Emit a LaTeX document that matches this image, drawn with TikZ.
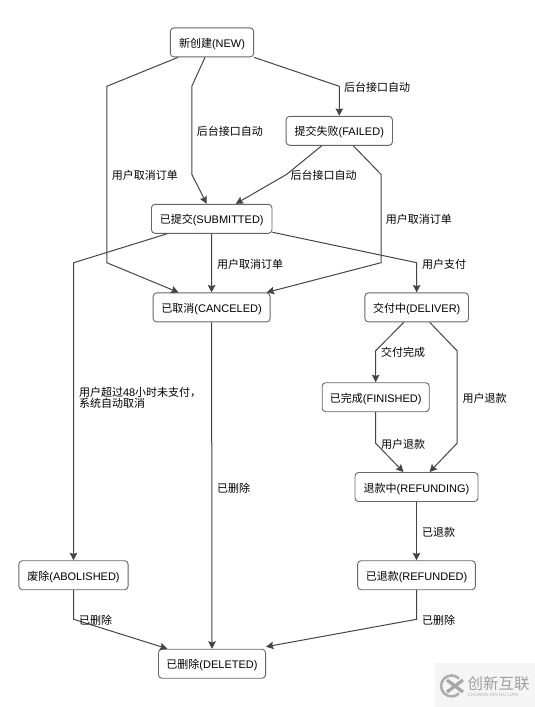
\documentclass[tikz,border=0pt]{standalone}
\usepackage{fontspec}
\setmainfont{Liberation Sans}
\newfontfamily\cjkfam{Noto Sans CJK SC}
\newcommand{\zh}[1]{{\cjkfam #1}}
\usetikzlibrary{arrows.meta}
\definecolor{edgec}{HTML}{444444}
\definecolor{boxc}{HTML}{666666}
\tikzset{
  statebox/.style={draw=boxc,line width=0.9pt,rounded corners=3.5pt,fill=white,inner sep=0pt,minimum height=29pt,text height=11pt,text depth=1pt,font=\fontsize{11}{13}\selectfont,text=black},
  edgeline/.style={draw=edgec,line width=1pt},
  arrowline/.style={edgeline,-{Stealth[length=7.5pt,width=7.5pt,inset=1.2pt]}},
  edgelabel/.style={anchor=west,inner sep=0pt,font=\fontsize{11}{11}\selectfont,text=black,align=left},
}
\begin{document}
\begin{tikzpicture}[x=1pt,y=-1pt]
\useasboundingbox (0,0) rectangle (535,707);
% nodes
\node[statebox,minimum width=83.3pt]  (new) at (212,42.4) {\zh{新创建}(NEW)};
\node[statebox,minimum width=106.3pt] (failed) at (339.3,130.8) {\zh{提交失败}(FAILED)};
\node[statebox,minimum width=120.5pt] (submitted) at (211.7,218.8) {\zh{已提交}(SUBMITTED)};
\node[statebox,minimum width=117pt]   (canceled) at (211.6,307.4) {\zh{已取消}(CANCELED)};
\node[statebox,minimum width=103.6pt] (deliver) at (416.7,307.4) {\zh{交付中}(DELIVER)};
\node[statebox,minimum width=107pt]   (finished) at (375.7,397.2) {\zh{已完成}(FINISHED)};
\node[statebox,minimum width=123pt]   (refunding) at (416.5,487) {\zh{退款中}(REFUNDING)};
\node[statebox,minimum width=117.7pt] (refunded) at (416.5,575.2) {\zh{已退款}(REFUNDED)};
\node[statebox,minimum width=109.2pt] (abolished) at (73.5,575.2) {\zh{废除}(ABOLISHED)};
\node[statebox,minimum width=107.1pt] (deleted) at (212,663.7) {\zh{已删除}(DELETED)};
% connectors
\draw[arrowline] ([xshift=-34pt]new.south) -- (106.8,86.3) -- (106.8,262.7) -- ([xshift=-33pt]canceled.north);
\draw[arrowline] ([xshift=-7pt]new.south) -- (191.8,86.3) -- (191.8,174.3) -- ([xshift=-5pt]submitted.north);
\draw[arrowline] (new.south east) -- (339.3,86.3) -- (failed.north);
\draw[arrowline] ([xshift=-17.5pt]failed.south) -- (286.7,174.3) -- ([xshift=24pt]submitted.north);
\draw[arrowline] ([xshift=14pt]failed.south) -- (381,174.3) -- (381,262.7) -- ([xshift=55pt]canceled.north);
\draw[arrowline] ([xshift=-44.5pt]submitted.south) -- (73.7,262.7) -- (abolished.north);
\draw[arrowline] (submitted.south) -- (canceled.north);
\draw[arrowline] ([yshift=1.5pt]submitted.south east) -- (416.7,262.7) -- (deliver.north);
\draw[arrowline] (canceled.south) -- (deleted.north);
\draw[arrowline] ([xshift=-13pt]deliver.south) -- (375.7,350.7) -- (finished.north);
\draw[arrowline] ([xshift=13pt]deliver.south) -- (457,350.7) -- (457,443.3) -- ([xshift=13pt]refunding.north);
\draw[arrowline] (finished.south) -- (375.7,443.3) -- ([xshift=-13pt]refunding.north);
\draw[arrowline] (refunding.south) -- (refunded.north);
\draw[arrowline] (abolished.south) -- (73.7,619.3) -- ([xshift=-44.5pt]deleted.north);
\draw[arrowline] (refunded.south) -- (416.5,619.3) -- ([yshift=2pt]deleted.north east);
% labels
\node[edgelabel] (l1) at (344,87) {\zh{后台接口自动}};
\node[edgelabel] (l2) at (196.6,131) {\zh{后台接口自动}};
\node[edgelabel] (l3) at (111.6,175.7) {\zh{用户取消订单}};
\node[edgelabel] (l4) at (290.4,175.7) {\zh{后台接口自动}};
\node[edgelabel] (l5) at (385.7,219.7) {\zh{用户取消订单}};
\node[edgelabel] (l6) at (217,264) {\zh{用户取消订单}};
\node[edgelabel] (l7) at (421.8,264) {\zh{用户支付}};
\node[edgelabel] (l8) at (381,352.3) {\zh{交付完成}};
\node[edgelabel] (l9) at (462.5,398) {\zh{用户退款}};
\node[edgelabel] (l10) at (381,444) {\zh{用户退款}};
\node[edgelabel] (l11) at (78.8,392.5) {\zh{用户超过}48\zh{小时未支付，}};
\node[edgelabel] (l12) at (78.8,403.5) {\zh{系统自动取消}};
\node[edgelabel] (l13) at (217,488) {\zh{已删除}};
\node[edgelabel] (l14) at (421.8,532) {\zh{已退款}};
\node[edgelabel] (l15) at (78.8,620) {\zh{已删除}};
\node[edgelabel] (l16) at (421.8,620) {\zh{已删除}};
% watermark
\fill[black!4] (435,662.7) rectangle (535,707);
\draw[black!32,line width=2.5pt] (459,678.5) arc[start angle=-45,end angle=-315,radius=10.5];
\draw[black!35,line width=3.2pt] (447,680) -- (463,692) (463,680) -- (447,692);
\node[anchor=west,inner sep=0pt,text=black!38,font=\fontsize{15.5}{15.5}\selectfont] (wm1) at (467.5,684) {\zh{创新互联}};
\node[anchor=west,inner sep=0pt,text=black!30,font=\fontsize{4.8}{5}\selectfont] (wm2) at (467.5,694.5) {CHUANG XIN HU LIAN};
\end{tikzpicture}
\end{document}
